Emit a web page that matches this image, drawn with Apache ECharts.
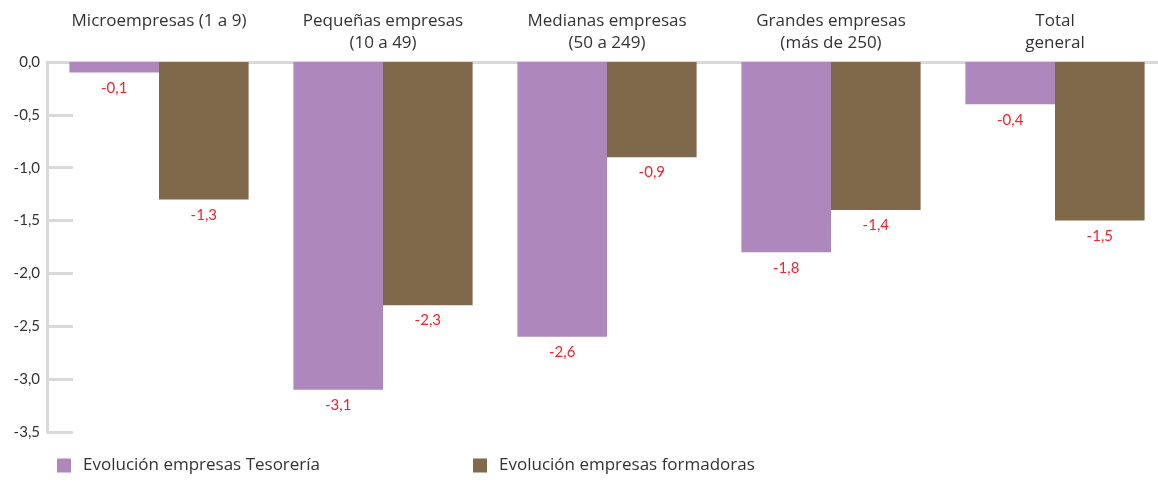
<!DOCTYPE html>
<html>
<head>
<meta charset="utf-8">
<script src="https://cdn.jsdelivr.net/npm/echarts@6/dist/echarts.min.js"></script>
<style>html,body{margin:0;padding:0;background:#fff}#c{width:1158px;height:482px}</style>
</head>
<body>
<div id="c"></div>
<script>
const categories = ['Microempresas (1 a 9)', 'Pequeñas empresas\n(10 a 49)', 'Medianas empresas\n(50 a 249)', 'Grandes empresas\n(más de 250)', 'Total\ngeneral'];
const tesoreria = [-0.1, -3.1, -2.6, -1.8, -0.4];
const formadoras = [-1.3, -2.3, -0.9, -1.4, -1.5];
const seriesNames = ['Evolución empresas Tesorería', 'Evolución empresas formadoras'];
const colors = ['#ae87bc', '#80684b'];

const fmt = v => v.toFixed(1).replace('.', ',');
const chart = echarts.init(document.getElementById('c'));
const labelCfg = {
  show: true, position: 'bottom', distance: 8, color: '#f5222d',
  fontFamily: 'Lato', fontSize: 15, formatter: p => fmt(p.value)
};
const legendText = { fontFamily: 'Open Sans', fontSize: 17, color: '#333', padding: [0, 0, 0, 7] };
chart.setOption({
  animation: false,
  textStyle: { fontFamily: 'Lato' },
  grid: { left: 47, width: 1120, top: 62, height: 370, outerBoundsMode: 'none', containLabel: false },
  legend: [
    { data: [seriesNames[0]], left: 52, bottom: 3, itemWidth: 14, itemHeight: 14, icon: 'rect', textStyle: legendText },
    { data: [seriesNames[1]], left: 468, bottom: 3, itemWidth: 14, itemHeight: 14, icon: 'rect', textStyle: legendText }
  ],
  xAxis: {
    type: 'category', position: 'top', data: categories,
    axisLine: { lineStyle: { color: '#d9d9d9', width: 3 } },
    axisTick: { inside: true, length: 8, lineStyle: { color: '#d9d9d9', width: 2 } },
    axisLabel: { interval: 0, hideOverlap: false, color: '#333', fontSize: 17, fontFamily: 'Open Sans',
      verticalAlign: 'top', margin: 52, lineHeight: 22 }
  },
  yAxis: {
    type: 'value', min: -3.5, max: 0, interval: 0.5,
    axisLine: { show: true, lineStyle: { color: '#d9d9d9', width: 3 } },
    axisTick: { show: true, inside: true, length: 26, lineStyle: { color: '#d9d9d9', width: 3 } },
    splitLine: { show: false },
    axisLabel: { color: '#333', fontSize: 15, fontFamily: 'Lato', margin: 7, formatter: v => fmt(v) }
  },
  series: [
    { name: seriesNames[0], type: 'bar', data: tesoreria, itemStyle: { color: colors[0] },
      barGap: '0%', barCategoryGap: '20%', label: labelCfg },
    { name: seriesNames[1], type: 'bar', data: formadoras, itemStyle: { color: colors[1] },
      barGap: '0%', barCategoryGap: '20%', label: labelCfg }
  ]
});
</script>
</body>
</html>
